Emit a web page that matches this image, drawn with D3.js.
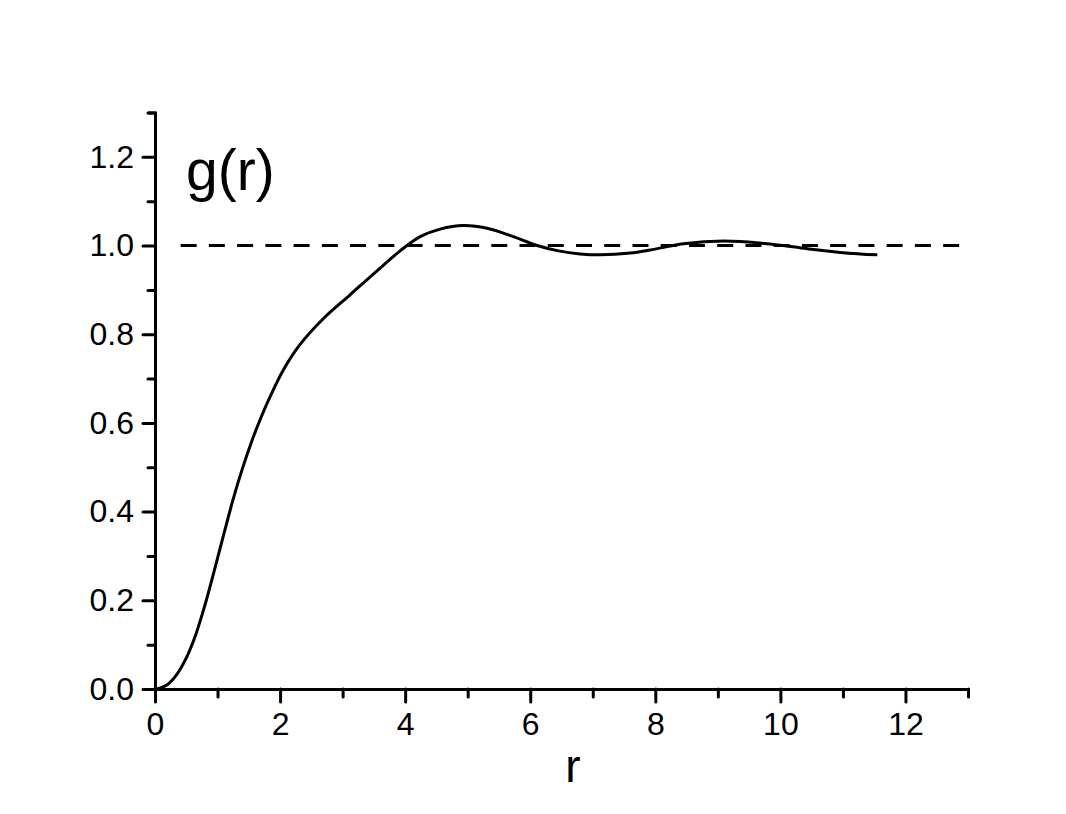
<!DOCTYPE html>
<html>
<head>
<meta charset="utf-8">
<script src="https://cdn.jsdelivr.net/npm/d3@7"></script>
<style>
  html, body { margin: 0; padding: 0; background: #fff; }
  svg { display: block; }
  text { font-family: "Liberation Sans", Arial, sans-serif; fill: #000; }
</style>
</head>
<body>
<svg id="chart" width="1066" height="814"></svg>
<script>
// Data
const rValues = [0, 0.1, 0.2, 0.35, 0.5, 0.65, 0.8, 0.95, 1.1, 1.25, 1.4, 1.55, 1.7, 1.85, 2.05, 2.32, 2.69, 3.12, 3.55, 3.92, 4.24, 4.56, 4.93, 5.31, 5.73, 6.11, 6.45, 6.8, 7.12, 7.6, 7.92, 8.45, 9.09, 9.79, 10.43, 11.0, 11.55];
const gValues = [0, 0.003, 0.01, 0.033, 0.07, 0.122, 0.19, 0.268, 0.349, 0.428, 0.498, 0.56, 0.614, 0.662, 0.719, 0.777, 0.835, 0.889, 0.943, 0.988, 1.02, 1.037, 1.045, 1.039, 1.020, 1.0, 0.988, 0.981, 0.979, 0.983, 0.99, 1.004, 1.010, 1.004, 0.993, 0.984, 0.979];
const referenceLevel = 1.0;
const referenceRange = [0.41, 13];
const xMajorTicks = [0, 2, 4, 6, 8, 10, 12];
const xMinorTicks = [1, 3, 5, 7, 9, 11, 13];
const yMajorTicks = [0, 0.2, 0.4, 0.6, 0.8, 1.0, 1.2];
const yMinorTicks = [0.1, 0.3, 0.5, 0.7, 0.9, 1.1, 1.3];
const xDomain = [0, 13];
const yDomain = [0, 1.3];
const xTitle = "r";
const plotLabel = "g(r)";

const svg = d3.select("#chart");
const x = d3.scaleLinear().domain(xDomain).range([155, 968]);
const y = d3.scaleLinear().domain(yDomain).range([689, 112.5]);

// reference dashed line
svg.append("line")
  .attr("x1", x(referenceRange[0])).attr("x2", x(referenceRange[1]))
  .attr("y1", y(referenceLevel)).attr("y2", y(referenceLevel))
  .attr("stroke", "#000").attr("stroke-width", 3)
  .attr("stroke-dasharray", "16,12.24");

// curve
const data = rValues.map((r, i) => ({ r, g: gValues[i] }));
svg.append("path")
  .datum(data)
  .attr("fill", "none")
  .attr("stroke", "#000")
  .attr("stroke-width", 3)
  .attr("stroke-linejoin", "round")
  .attr("d", d3.line().x(d => x(d.r)).y(d => y(d.g)).curve(d3.curveCatmullRom.alpha(0.5)));

function styleAxis(g) {
  g.selectAll("path.domain").attr("stroke", "#000").attr("stroke-width", 3).attr("fill", "none");
  g.selectAll(".tick line").attr("stroke", "#000").attr("stroke-width", 3).attr("stroke-linecap", "round");
}

// x axis minor
svg.append("g").attr("transform", `translate(0,${y(0)})`)
  .call(d3.axisBottom(x).tickValues(xMinorTicks).tickSize(8).tickFormat(""))
  .call(styleAxis);
// x axis major
const gx = svg.append("g").attr("transform", `translate(0,${y(0)})`)
  .call(d3.axisBottom(x).tickValues(xMajorTicks).tickSize(13).tickSizeOuter(0).tickPadding(10).tickFormat(d3.format("d")))
  .call(styleAxis);
gx.selectAll("text").attr("font-size", 32).attr("font-family", "Liberation Sans, Arial, sans-serif").attr("fill", "#000");

// y axis minor
svg.append("g").attr("transform", `translate(${x(0)},0)`)
  .call(d3.axisLeft(y).tickValues(yMinorTicks).tickSize(7).tickFormat(""))
  .call(styleAxis);
// y axis major
const gy = svg.append("g").attr("transform", `translate(${x(0)},0)`)
  .call(d3.axisLeft(y).tickValues(yMajorTicks).tickSize(12).tickSizeOuter(0).tickPadding(9).tickFormat(d3.format(".1f")))
  .call(styleAxis);
gy.selectAll("text").attr("font-size", 32).attr("font-family", "Liberation Sans, Arial, sans-serif").attr("fill", "#000");

// axis title
svg.append("text")
  .attr("x", 573).attr("y", 782)
  .attr("text-anchor", "middle")
  .attr("font-size", 46)
  .text(xTitle);

// panel label
svg.append("text")
  .attr("x", 186).attr("y", 190)
  .attr("font-size", 57)
  .text(plotLabel);
</script>
</body>
</html>
